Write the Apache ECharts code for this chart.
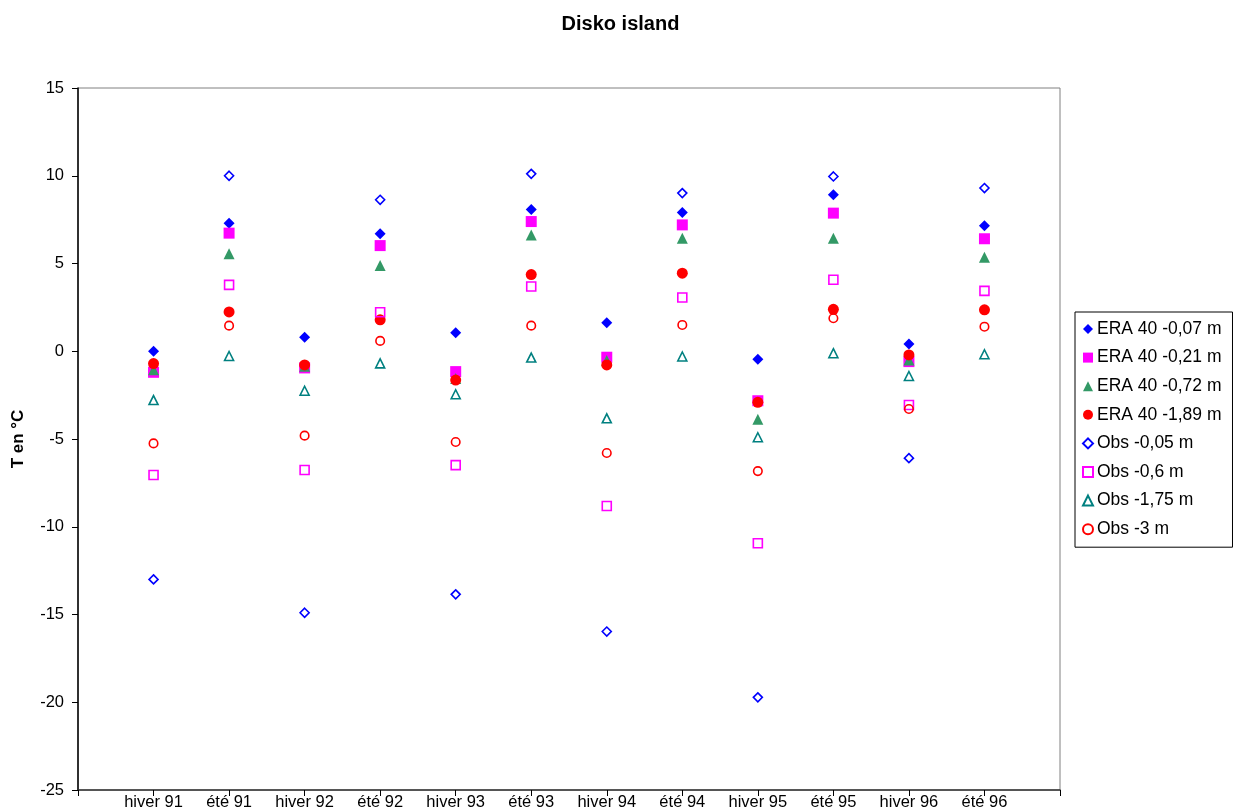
<!DOCTYPE html>
<html><head><meta charset="utf-8">
<script src="https://cdn.jsdelivr.net/npm/echarts@6/dist/echarts.min.js"></script>
<style>html,body{margin:0;padding:0;background:#fff}#c{width:1241px;height:812px}</style>
</head><body><div id="c"></div>
<script>
const categories = ['hiver 91','été 91','hiver 92','été 92','hiver 93','été 93','hiver 94','été 94','hiver 95','été 95','hiver 96','été 96'];
const yTicks = [-25,-20,-15,-10,-5,0,5,10,15];

const era007 = [0.0, 7.3, 0.8, 6.69, 1.06, 8.08, 1.63, 7.91, -0.46, 8.92, 0.42, 7.15];
const era021 = [-1.2, 6.73, -0.95, 6.02, -1.16, 7.39, -0.34, 7.2, -2.82, 7.87, -0.59, 6.41];
const era072 = [-1.05, 5.55, -0.85, 4.88, -1.55, 6.63, -0.53, 6.44, -3.88, 6.44, -0.5, 5.36];
const era189 = [-0.7, 2.24, -0.78, 1.79, -1.64, 4.37, -0.78, 4.45, -2.91, 2.39, -0.21, 2.36];
const obs005 = [-13.0, 10.0, -14.9, 8.63, -13.85, 10.11, -15.97, 9.01, -19.72, 9.96, -6.09, 9.3];
const obs06  = [-7.05, 3.78, -6.77, 2.22, -6.49, 3.69, -8.82, 3.06, -10.94, 4.07, -3.06, 3.44];
const obs175 = [-2.78, -0.27, -2.25, -0.69, -2.45, -0.36, -3.82, -0.3, -4.9, -0.11, -1.41, -0.17];
const obs3   = [-5.25, 1.46, -4.81, 0.59, -5.17, 1.46, -5.8, 1.5, -6.83, 1.88, -3.29, 1.4];

const seriesDefs = [
  {name:'ERA 40 -0,07 m', data:era007, symbol:'diamond', size:[11,11], color:'#0000FF', filled:true},
  {name:'ERA 40 -0,21 m', data:era021, symbol:'rect', size:11, color:'#FF00FF', filled:true},
  {name:'ERA 40 -0,72 m', data:era072, symbol:'triangle', size:[11,11], color:'#339966', filled:true},
  {name:'ERA 40 -1,89 m', data:era189, symbol:'circle', size:11, color:'#FF0000', filled:true},
  {name:'Obs -0,05 m', data:obs005, symbol:'diamond', size:[9,9], color:'#0000FF', filled:false},
  {name:'Obs -0,6 m', data:obs06, symbol:'rect', size:9, color:'#FF00FF', filled:false},
  {name:'Obs -1,75 m', data:obs175, symbol:'triangle', size:[9,9], color:'#008080', filled:false},
  {name:'Obs -3 m', data:obs3, symbol:'circle', size:8.5, color:'#FF0000', filled:false}
];

const font = "'Liberation Sans', Arial, sans-serif";
const chart = echarts.init(document.getElementById('c'));
chart.setOption({
  animation:false,
  backgroundColor:'#fff',
  title:{text:'Disko island', left:'center', top:9, textStyle:{fontFamily:font, fontSize:20, fontWeight:'bold', color:'#000'}},
  grid:{left:78, top:88, right:181, bottom:22, show:true, borderColor:'#808080', borderWidth:1, backgroundColor:'transparent'},
  legend:{
    orient:'vertical', left:1075, top:312,
    padding:[8,11,9,7], itemGap:10.6, itemWidth:10, itemHeight:10,
    borderColor:'#000', borderWidth:1, backgroundColor:'#fff',
    textStyle:{fontFamily:font, fontSize:17.5, color:'#000', padding:[0,0,0,-1], lineHeight:18},
    data:seriesDefs.map(s=>s.name)
  },
  xAxis:{
    type:'value', min:0, max:13, interval:1,
    axisLine:{show:true, onZero:false, lineStyle:{color:'#333', width:1.5}},
    axisTick:{show:true, length:6, inside:false, lineStyle:{color:'#000'}},
    splitLine:{show:false},
    axisLabel:{fontFamily:font, fontSize:16.5, color:'#000', margin:4,
      formatter:v=> (v>=1 && v<=categories.length) ? categories[v-1] : ''}
  },
  yAxis:{
    type:'value', min:yTicks[0], max:yTicks[yTicks.length-1], interval:5,
    name:'T en °C', nameLocation:'middle', nameGap:51,
    nameTextStyle:{fontFamily:font, fontSize:17, fontWeight:'bold', color:'#000'},
    axisLine:{show:true, onZero:false, lineStyle:{color:'#000', width:1.5}},
    axisTick:{show:true, length:6, inside:false, lineStyle:{color:'#000'}},
    splitLine:{show:false},
    axisLabel:{fontFamily:font, fontSize:16.5, color:'#000', margin:14}
  },
  series: seriesDefs.map(s=>({
    name:s.name, type:'scatter', symbol:s.symbol, symbolSize:s.size,
    data:s.data.map((v,i)=>[i+1,v]),
    itemStyle: s.filled ? {color:s.color, opacity:1} : {color:'rgba(255,255,255,0)', borderColor:s.color, borderWidth:1.6, opacity:1},
    emphasis:{disabled:true}
  }))
});
</script></body></html>
